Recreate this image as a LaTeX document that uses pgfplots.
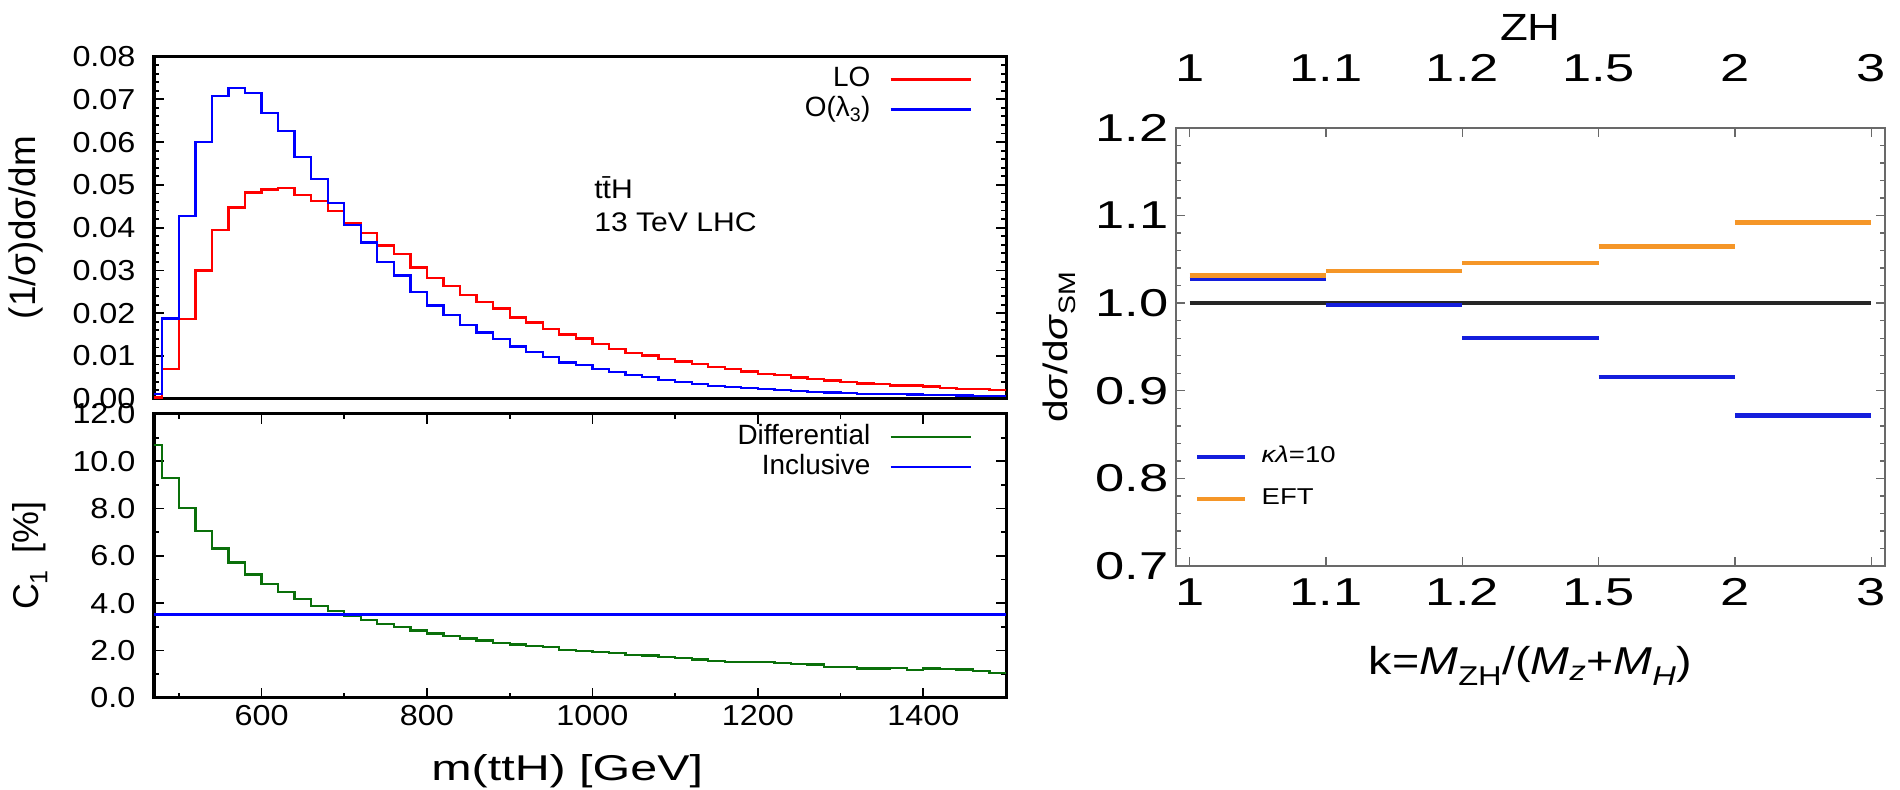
\documentclass[border=0pt]{standalone}
\usepackage{pgfplots}
\pgfplotsset{compat=1.18}
\usepackage{pgfplotstable}
\usepackage{fontspec}
\setmainfont{Liberation Sans}
\newfontfamily\gnusans[FakeStretch=1.12]{Liberation Sans}
\newfontfamily\gnuwide[FakeStretch=1.35]{Liberation Sans}
\newfontfamily\widesans[FakeStretch=1.2]{Liberation Sans}
\newfontfamily\widertick[FakeStretch=1.35]{Liberation Sans}

\definecolor{loRed}{RGB}{255,0,0}
\definecolor{lamBlue}{RGB}{0,0,255}
\definecolor{diffGreen}{RGB}{10,112,10}
\definecolor{klBlue}{RGB}{20,30,220}
\definecolor{eftOrange}{RGB}{245,150,40}
\definecolor{frameGray}{RGB}{105,105,105}

% font sizes
\newcommand\fTick{\gnusans\fontsize{29}{34}\selectfont}
\newcommand\fLab{\fontsize{37}{42}\selectfont}
\newcommand\fXLab{\gnuwide\fontsize{36}{42}\selectfont}
\newcommand\fLeg{\fontsize{28}{32}\selectfont}
\newcommand\fRTick{\widertick\fontsize{39}{44}\selectfont}
\newcommand\fRLab{\widesans\fontsize{34}{40}\selectfont}
\newcommand\fRXLab{\widesans\fontsize{39}{44}\selectfont}
\newcommand\fRLeg{\widesans\fontsize{23}{27}\selectfont}

% normalised m(ttH) distributions and C1, 20 GeV bins (left edges)
\pgfplotstableread{
m     lo      lam     c1
470   0.0003  0.0011  10.68
480   0.0070  0.0188  9.29
500   0.0187  0.0428  8.02
520   0.0300  0.0600  7.06
540   0.0394  0.0707  6.31
560   0.0447  0.0727  5.72
580   0.0482  0.0715  5.21
600   0.0489  0.0668  4.80
620   0.0492  0.0626  4.46
640   0.0476  0.0565  4.18
660   0.0463  0.0513  3.88
680   0.0439  0.0457  3.67
700   0.0410  0.0406  3.47
720   0.0388  0.0365  3.29
740   0.0358  0.0320  3.12
760   0.0339  0.0288  2.99
780   0.0307  0.0249  2.84
800   0.0283  0.0218  2.71
820   0.0264  0.0196  2.61
840   0.0242  0.0172  2.51
860   0.0226  0.0155  2.42
880   0.0211  0.0139  2.32
900   0.0190  0.0122  2.25
920   0.0178  0.0109  2.18
940   0.0163  0.0097  2.13
960   0.0150  0.0085  2.02
980   0.0141  0.0079  1.98
1000  0.0128  0.0069  1.92
1020  0.0117  0.0062  1.88
1040  0.0107  0.0055  1.82
1060  0.0101  0.0051  1.78
1080  0.0093  0.0044  1.71
1100  0.0087  0.0040  1.67
1120  0.0081  0.0035  1.62
1140  0.0075  0.0030  1.54
1160  0.0070  0.0027  1.50
1180  0.0064  0.0025  1.50
1200  0.0058  0.0023  1.50
1220  0.0055  0.0020  1.47
1240  0.0050  0.0019  1.44
1260  0.0046  0.0016  1.41
1280  0.0043  0.0015  1.30
1300  0.0040  0.0014  1.30
1320  0.0036  0.0012  1.23
1340  0.0034  0.0012  1.23
1360  0.0031  0.0011  1.26
1380  0.0031  0.0010  1.16
1400  0.0029  0.0009  1.23
1420  0.0026  0.0009  1.20
1440  0.0023  0.0008  1.19
1460  0.0023  0.0007  1.14
1480  0.0021  0.0006  1.03
1500  0.0021  0.0006  1.03
}\histdata

% ZH ratio per k bin (bin index 0..4, last row closes the final bin)
\pgfplotstableread{
k  kl      eft
0  1.0276  1.0316
1  0.9980  1.0370
2  0.9600  1.0460
3  0.9155  1.0650
4  0.8720  1.0920
5  0.8720  1.0920
}\zhdata

\begin{document}
\begin{tikzpicture}
\useasboundingbox (0bp,0bp) rectangle (1900bp,790bp);

\pgfplotsset{
  gnu/.style={
    scale only axis,
    xmin=470, xmax=1500,
    tick align=inside,
    major tick length=10bp, minor tick length=5bp,
    every tick/.style={black, line width=1.8bp},
    axis line style={line width=3bp},
    /pgf/number format/assume math mode=true,
    /pgf/number format/1000 sep={},
    tick label style={font=\fTick},
    yticklabel style={xshift=-15bp},
    label style={font=\fLab},
    legend cell align=right, legend plot pos=right,
    legend image code/.code={\draw[##1, line width=2.4bp] (0bp,0bp) -- (80bp,0bp);},
    legend style={draw=none, fill=none, at={(rel axis cs:1,1)}, anchor=north east,
      xshift=-34bp, yshift=-8bp, font=\fLeg, inner sep=0pt, row sep=0pt,
      nodes={inner sep=2bp, text height=20bp, text depth=6bp},
      /tikz/every odd column/.append style={column sep=17bp}},
  },
}

% upper panel: normalised distributions
\begin{axis}[gnu,
  at={(154bp,391.2bp)}, anchor=south west,
  width=852bp, height=342.3bp,
  ymin=0, ymax=0.08,
  xtick=\empty,
  ytick={0,0.01,0.02,0.03,0.04,0.05,0.06,0.07,0.08},
  minor y tick num=4,
  scaled y ticks=false,
  yticklabel style={/pgf/number format/fixed, /pgf/number format/fixed zerofill, /pgf/number format/precision=2},
  ylabel={(1/σ)dσ/dm},
  ylabel style={at={(axis description cs:-0.150,0.5)}, anchor=center},
]
\addplot[const plot, color=loRed, line width=2.3bp] table[x=m, y=lo]{\histdata};
\addlegendentry{LO}
\addplot[const plot, color=lamBlue, line width=2.3bp] table[x=m, y=lam]{\histdata};
\addlegendentry{O(λ\textsubscript{3})}
\node[anchor=west, align=left, font=\gnusans\fontsize{27}{33}\selectfont] at (axis cs:998,0.0455) {t\={t}H\\13 TeV LHC};
\end{axis}

% lower panel: C1
\begin{axis}[gnu,
  at={(154bp,92.3bp)}, anchor=south west,
  width=852bp, height=283.7bp,
  ymin=0, ymax=12,
  xtick={600,800,1000,1200,1400},
  minor xtick={500,700,900,1100,1300},
  ytick={0,2,4,6,8,10,12},
  minor y tick num=1,
  xticklabel style={yshift=-4bp},
  yticklabel style={/pgf/number format/fixed, /pgf/number format/fixed zerofill, /pgf/number format/precision=1},
  xlabel={m(ttH) [GeV]},
  xlabel style={font=\fXLab, at={(axis description cs:0.485,-0.258)}, anchor=center},
  ylabel={C\textsubscript{1}\, [\%]},
  ylabel style={font=\fontsize{36}{42}\selectfont, at={(axis description cs:-0.1455,0.5)}, anchor=center},
]
\addplot[const plot, color=diffGreen, line width=2.3bp] table[x=m, y=c1]{\histdata};
\addlegendentry{Differential}
\addplot[color=lamBlue, line width=2.6bp] coordinates {(470,3.52) (1500,3.52)};
\addlegendentry{Inclusive}
\end{axis}

% ZH ratio panel
\begin{axis}[
  scale only axis,
  at={(1176bp,224bp)}, anchor=south west,
  width=709bp, height=438bp,
  xmin=-0.1, xmax=5.1, ymin=0.7, ymax=1.2,
  xtick={0,1,2,3,4,5}, xticklabels={1,1.1,1.2,1.5,2,3},
  ytick={0.7,0.8,0.9,1.0,1.1,1.2},
  minor y tick num=4,
  tick align=inside,
  major tick length=9bp, minor tick length=5bp,
  every tick/.style={frameGray, line width=1.4bp},
  axis line style={frameGray, line width=1.6bp},
  /pgf/number format/assume math mode=true,
  tick label style={font=\fRTick},
  xticklabel style={yshift=-9bp},
  yticklabel style={xshift=-4bp, /pgf/number format/fixed, /pgf/number format/fixed zerofill, /pgf/number format/precision=1},
  label style={font=\fRLab},
  xlabel={k=\textit{M}\textsubscript{ZH}/(\textit{M}\textsubscript{\textit{z}}+\textit{M}\textsubscript{\textit{H}})},
  xlabel style={font=\fRXLab, at={(axis description cs:0.5,-0.228)}, anchor=center},
  ylabel={d\textit{σ}/d\textit{σ}\textsubscript{SM}},
  ylabel style={at={(axis description cs:-0.164,0.5)}, anchor=center},
  legend image code/.code={\draw[#1, line width=4.5bp] (0bp,0bp) -- (48bp,0bp);},
  legend style={draw=none, fill=none, at={(axis description cs:0,0.297)}, anchor=north west,
    xshift=19bp, font=\fRLeg, inner sep=0pt, row sep=0pt,
    nodes={inner sep=2bp, text height=24bp, text depth=14bp},
    /tikz/every odd column/.append style={column sep=12bp}},
  legend cell align=left,
]
\addplot[color=black!85, line width=3.5bp, forget plot] coordinates {(0,1) (5,1)};
\addplot[jump mark left, color=klBlue, line width=4.5bp] table[x=k, y=kl]{\zhdata};
\addlegendentry{\textit{κλ}=10}
\addplot[jump mark left, color=eftOrange, line width=4.5bp] table[x=k, y=eft]{\zhdata};
\addlegendentry{EFT}
\end{axis}

% category labels along the top edge of the ZH panel
\begin{axis}[
  scale only axis,
  at={(1176bp,224bp)}, anchor=south west,
  width=709bp, height=438bp,
  xmin=-0.1, xmax=5.1, ymin=0.7, ymax=1.2,
  axis x line*=top, axis y line=none,
  ytick=\empty,
  xtick={0,1,2,3,4,5}, xticklabels={1,1.1,1.2,1.5,2,3},
  tick align=inside, major tick length=9bp,
  every tick/.style={frameGray, line width=1.4bp},
  axis line style={frameGray, line width=1.6bp, -},
  tick label style={font=\fRTick},
  xticklabel style={yshift=43bp},
  title={ZH},
  title style={font=\widesans\fontsize{38}{44}\selectfont, at={(axis description cs:0.5,1.215)}, anchor=center},
]
\end{axis}
\end{tikzpicture}
\end{document}
